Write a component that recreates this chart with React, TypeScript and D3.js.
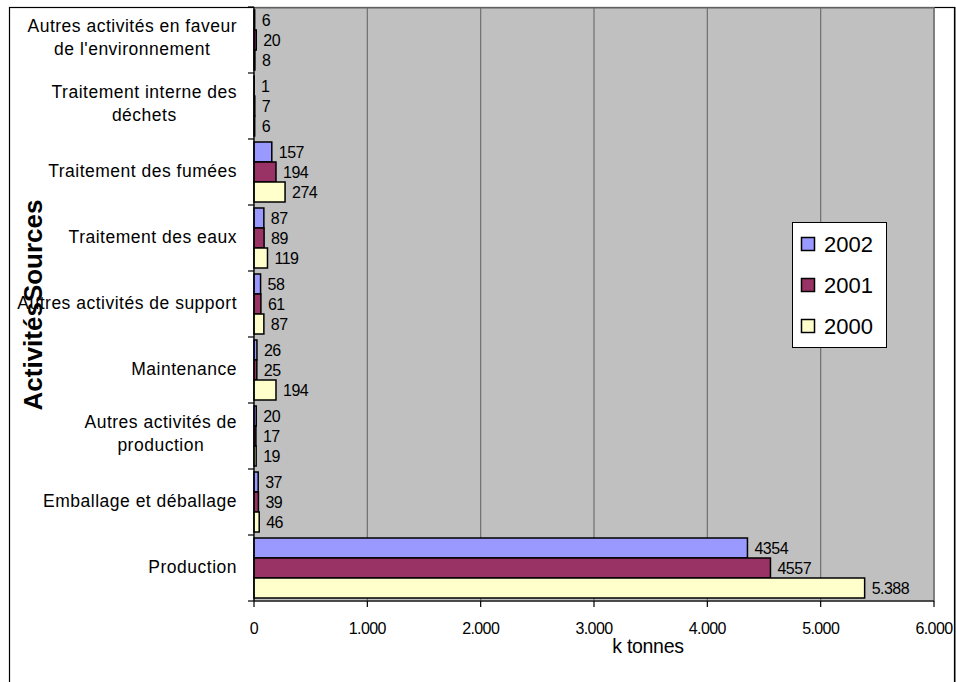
import { useEffect, useRef } from "react";
import * as d3 from "d3";

const categories = [
  "Autres activités en faveur\nde l'environnement",
  "Traitement interne des\ndéchets",
  "Traitement des fumées",
  "Traitement des eaux",
  "Autres activités de support",
  "Maintenance",
  "Autres activités de\nproduction",
  "Emballage et déballage",
  "Production",
];

const seriesNames = ["2002", "2001", "2000"];
const values2002 = [6, 1, 157, 87, 58, 26, 20, 37, 4354];
const values2001 = [20, 7, 194, 89, 61, 25, 17, 39, 4557];
const values2000 = [8, 6, 274, 119, 87, 194, 19, 46, 5388];
const seriesColors = ["#9999ff", "#993366", "#ffffcc"];
const xTicks = [0, 1000, 2000, 3000, 4000, 5000, 6000];

const W = 956;
const H = 682;
const FONT = "'Liberation Sans', Arial, sans-serif";

const fmt = d3.formatLocale({
  decimal: ",",
  thousands: ".",
  grouping: [3],
  currency: ["", ""],
}).format(",");

const App = () => {
  const svgRef = useRef<SVGSVGElement | null>(null);

  useEffect(() => {
    const root = d3.select(svgRef.current);
    root.selectAll("*").remove();

    const left = 254;
    const right = 934;
    const top = 7;
    const bottom = 601;

    const x = d3.scaleLinear().domain([0, 6000]).range([left, right]);
    const y = d3.scaleBand().domain(categories).range([top, bottom]).padding(0);
    const ySub = d3
      .scaleBand()
      .domain(seriesNames)
      .range([0, y.bandwidth()])
      .paddingInner(0)
      .paddingOuter(0.15);

    const allValues = [values2002, values2001, values2000];

    // outer frame
    root
      .append("rect")
      .attr("x", 9.5)
      .attr("y", 7.5)
      .attr("width", 945)
      .attr("height", 690)
      .attr("fill", "white")
      .attr("stroke", "#000")
      .attr("stroke-width", 1.2);
    root
      .append("line")
      .attr("x1", 955.5)
      .attr("x2", 955.5)
      .attr("y1", 7)
      .attr("y2", H)
      .attr("stroke", "#808080");

    // plot area
    root
      .append("rect")
      .attr("x", left)
      .attr("y", top + 1)
      .attr("width", right - left)
      .attr("height", bottom - top - 1)
      .attr("fill", "#c0c0c0")
      .attr("stroke", "#808080")
      .attr("stroke-width", 1.5);

    root
      .append("g")
      .selectAll("line")
      .data(xTicks.slice(1))
      .enter()
      .append("line")
      .attr("x1", (d) => x(d))
      .attr("x2", (d) => x(d))
      .attr("y1", top + 1)
      .attr("y2", bottom)
      .attr("stroke", "#6f6f6f")
      .attr("stroke-width", 1.2);

    // bars
    seriesNames.forEach((s, si) => {
      const vals = allValues[si];
      const g = root.append("g");
      g.selectAll("rect")
        .data(categories)
        .enter()
        .append("rect")
        .attr("x", x(0))
        .attr("y", (c) => (y(c) || 0) + (ySub(s) || 0))
        .attr("width", (_c, i) => x(vals[i]) - x(0))
        .attr("height", ySub.bandwidth())
        .attr("fill", seriesColors[si])
        .attr("stroke", "#000")
        .attr("stroke-width", 1.5);

      g.selectAll("text")
        .data(categories)
        .enter()
        .append("text")
        .attr("x", (_c, i) => x(vals[i]) + 7)
        .attr("y", (c) => (y(c) || 0) + (ySub(s) || 0) + ySub.bandwidth() / 2)
        .attr("dominant-baseline", "central")
        .attr("font-family", FONT)
        .attr("font-size", 16)
        .attr("letter-spacing", -0.5)
        .attr("fill", "#000")
        .text((_c, i) => (vals[i] >= 5000 ? fmt(vals[i]) : String(vals[i])));
    });

    // axes
    const axisG = root.append("g").attr("stroke", "#000").attr("stroke-width", 1.2);
    axisG
      .append("line")
      .attr("x1", left)
      .attr("x2", right)
      .attr("y1", bottom)
      .attr("y2", bottom);
    axisG
      .append("line")
      .attr("x1", left)
      .attr("x2", left)
      .attr("y1", top)
      .attr("y2", bottom);
    axisG
      .selectAll("line.xt")
      .data(xTicks)
      .enter()
      .append("line")
      .attr("class", "xt")
      .attr("x1", (d) => x(d))
      .attr("x2", (d) => x(d))
      .attr("y1", bottom)
      .attr("y2", bottom + 6);
    const bounds = categories.map((c) => y(c) || 0).concat([bottom]);
    axisG
      .selectAll("line.yt")
      .data(bounds)
      .enter()
      .append("line")
      .attr("class", "yt")
      .attr("x1", left - 6)
      .attr("x2", left)
      .attr("y1", (d) => d)
      .attr("y2", (d) => d);

    root
      .append("g")
      .selectAll("text")
      .data(xTicks)
      .enter()
      .append("text")
      .attr("x", (d) => x(d))
      .attr("y", 628)
      .attr("text-anchor", "middle")
      .attr("dominant-baseline", "central")
      .attr("font-family", FONT)
      .attr("font-size", 16)
      .attr("letter-spacing", -0.6)
      .text((d) => fmt(d));

    root
      .append("text")
      .attr("x", 648)
      .attr("y", 646)
      .attr("text-anchor", "middle")
      .attr("dominant-baseline", "central")
      .attr("font-family", FONT)
      .attr("font-size", 19.5)
      .attr("letter-spacing", -0.3)
      .text("k tonnes");

    // category labels
    const labelRight = 237;
    categories.forEach((c) => {
      const lines = c.split("\n");
      const cy = (y(c) || 0) + y.bandwidth() / 2;
      const t = root
        .append("text")
        .attr("font-family", FONT)
        .attr("font-size", 17.5)
        .attr("letter-spacing", 0.5)
        .attr("dominant-baseline", "central");
      if (lines.length === 1) {
        t.attr("x", labelRight).attr("y", cy - 1).attr("text-anchor", "end").text(c);
      } else {
        const spans = lines.map((ln, li) =>
          t
            .append("tspan")
            .attr("x", labelRight)
            .attr("y", cy - 3 + (li === 0 ? -11.5 : 11.5))
            .text(ln),
        );
        const widths = spans.map((sp) => (sp.node() as SVGTextContentElement).getComputedTextLength());
        const maxW = d3.max(widths) || 0;
        t.attr("text-anchor", "middle");
        spans.forEach((sp) => sp.attr("x", labelRight - maxW / 2));
      }
    });

    root
      .append("text")
      .attr("transform", "translate(33,305) rotate(-90)")
      .attr("text-anchor", "middle")
      .attr("dominant-baseline", "central")
      .attr("font-family", FONT)
      .attr("font-weight", "bold")
      .attr("font-size", 26)
      .text("ActivitésSources");

    // legend
    const lg = root.append("g");
    lg.append("rect")
      .attr("x", 792.5)
      .attr("y", 222.5)
      .attr("width", 94)
      .attr("height", 125)
      .attr("fill", "white")
      .attr("stroke", "#000")
      .attr("stroke-width", 1);
    seriesNames.forEach((s, i) => {
      const cy = 244.5 + i * 41;
      lg.append("rect")
        .attr("x", 801.5)
        .attr("y", cy - 7)
        .attr("width", 13)
        .attr("height", 13)
        .attr("fill", seriesColors[i])
        .attr("stroke", "#000")
        .attr("stroke-width", 1.5);
      lg.append("text")
        .attr("x", 824)
        .attr("y", cy)
        .attr("dominant-baseline", "central")
        .attr("font-family", FONT)
        .attr("font-size", 22)
        .text(s);
    });
  }, []);

  return (
    <svg
      ref={svgRef}
      width={W}
      height={H}
      style={{ position: "absolute", left: 0, top: 0, display: "block" }}
    />
  );
};

export default App;
